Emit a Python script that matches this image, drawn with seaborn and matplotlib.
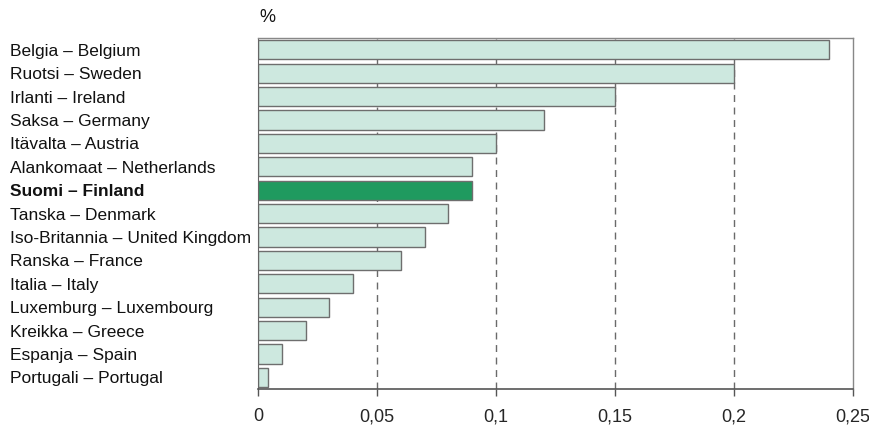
import matplotlib
matplotlib.use("Agg")
import matplotlib.pyplot as plt
import seaborn as sns
import pandas as pd

countries = ["Belgia – Belgium", "Ruotsi – Sweden", "Irlanti – Ireland",
             "Saksa – Germany", "Itävalta – Austria", "Alankomaat – Netherlands",
             "Suomi – Finland", "Tanska – Denmark",
             "Iso-Britannia – United Kingdom", "Ranska – France",
             "Italia – Italy", "Luxemburg – Luxembourg", "Kreikka – Greece",
             "Espanja – Spain", "Portugali – Portugal"]
values = [0.24, 0.20, 0.15, 0.12, 0.10, 0.09, 0.09, 0.08, 0.07, 0.06,
          0.04, 0.03, 0.02, 0.01, 0.004]
highlight = "Suomi – Finland"
xticks = [0, 0.05, 0.1, 0.15, 0.2, 0.25]
xticklabels = ["0", "0,05", "0,1", "0,15", "0,2", "0,25"]

sns.set_style("white")
plt.rcParams['font.family'] = ['Liberation Sans', 'DejaVu Sans']

df = pd.DataFrame({"country": countries, "value": values})
colors = ["#1f9a5f" if c == highlight else "#cde8df" for c in countries]

fig = plt.figure(figsize=(8.69, 4.28), dpi=100)
ax = fig.add_axes([0.2969, 0.0911, 0.6847, 0.8201])

for x in xticks[1:-1]:
    ax.axvline(x, color="#6a6a6a", lw=1, ls=(0, (5, 4)), zorder=0)

sns.barplot(data=df, x="value", y="country", hue="country", palette=colors,
            saturation=1, legend=False, width=0.82, edgecolor="#6e6e6e",
            linewidth=1, ax=ax, zorder=2)

ax.set_xlim(0, 0.25)
ax.set_ylim(len(countries) - 0.5, -0.5)
ax.set_xticks(xticks)
ax.set_xticklabels(xticklabels, fontsize=13)
ax.set_xlabel("")
ax.set_ylabel("")
ax.tick_params(axis="x", bottom=True, length=5, width=1, color="#555555", pad=9)
ax.tick_params(axis="y", left=False, pad=0)

ax.set_yticks(range(len(countries)))
ax.set_yticklabels(countries, fontsize=12.5, ha="left", color="#111111")
for lab in ax.get_yticklabels():
    lab.set_x(-0.408)
    if lab.get_text() == highlight:
        lab.set_fontweight("bold")

for side in ["top", "right"]:
    ax.spines[side].set_color("#888888")
    ax.spines[side].set_linewidth(1)
ax.spines["left"].set_color("#666666")
ax.spines["bottom"].set_color("#555555")
ax.spines["bottom"].set_linewidth(1.2)

ax.text(0.003, 1.035, "%", transform=ax.transAxes, fontsize=13, ha="left",
        va="bottom", color="#111111")

fig.savefig("out.png", dpi=100)
